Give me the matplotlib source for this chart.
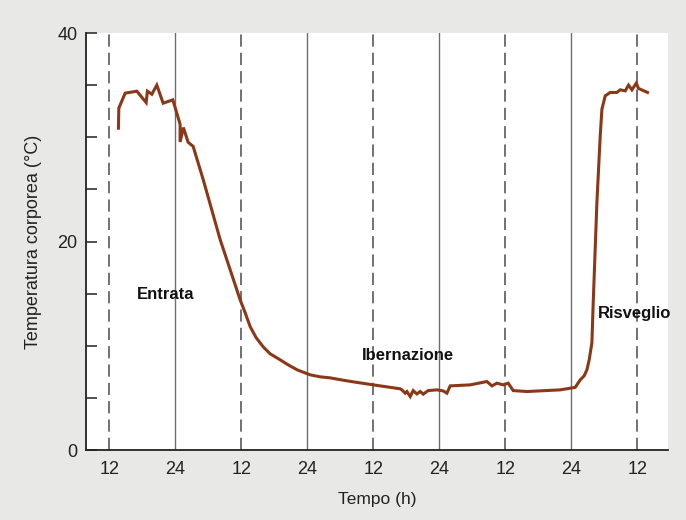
import matplotlib
matplotlib.use("Agg")
import matplotlib.pyplot as plt

plt.rcParams['font.family'] = ['Liberation Sans', 'DejaVu Sans']

# Body temperature record through entry, hibernation and arousal
hours = [13.69, 13.76, 14.91, 17.04, 18.73, 18.96, 19.76, 20.67, 21.82, 23.58,
         24.9, 24.9, 25.5, 26.36, 27.27, 29.09, 32.18, 35.82, 36.73, 37.64,
         38.73, 40.0, 41.27, 43.09, 44.55, 46.18, 48.55, 50.36, 52.18, 55.27,
         60.0, 64.91, 65.22, 65.82, 66.13, 66.73, 67.27, 67.95, 68.55, 69.09,
         70.0, 71.58, 72.73, 73.4, 74.0, 77.64, 79.45, 80.67, 81.58, 82.49,
         83.64, 84.55, 85.45, 88.0, 94.0, 95.82, 96.73, 97.64, 98.36, 98.85,
         99.27, 99.76, 100.0, 100.67, 101.27, 101.58, 102.18, 103.09, 104.31, 104.91,
         105.82, 106.42, 107.04, 107.82, 108.24, 109.87]
temps = [30.87, 32.79, 34.23, 34.42, 33.33, 34.42, 34.13, 35.0, 33.27, 33.59,
         31.25, 29.55, 30.93, 29.52, 29.13, 25.96, 20.19, 14.4, 13.17, 11.83,
         10.77, 9.90, 9.23, 8.65, 8.17, 7.69, 7.21, 7.02, 6.92, 6.63,
         6.25, 5.87, 5.77, 5.45, 5.61, 5.13, 5.70, 5.38, 5.61, 5.36,
         5.70, 5.77, 5.67, 5.45, 6.15, 6.25, 6.44, 6.57, 6.15, 6.41,
         6.25, 6.41, 5.70, 5.61, 5.77, 5.93, 6.01, 6.73, 7.12, 7.69,
         8.65, 10.29, 14.13, 23.75, 30.1, 32.69, 33.97, 34.3, 34.3, 34.55,
         34.45, 35.0, 34.55, 35.19, 34.68, 34.3]

tick_pos = [12, 24, 36, 48, 60, 72, 84, 96, 108]
tick_labels = ['12', '24', '12', '24', '12', '24', '12', '24', '12']
noon_lines = [12, 36, 60, 84, 108]
midnight_lines = [24, 48, 72, 96]

phase_labels = ['Entrata', 'Ibernazione', 'Risveglio']
phase_x = [17.1, 57.9, 100.9]
phase_y = [14.9, 9.1, 13.1]

fig = plt.figure(figsize=(6.86, 5.2), dpi=100, facecolor='#e8e8e6')
ax = fig.add_axes([0.1254, 0.1346, 0.8484, 0.8019])
ax.set_facecolor('white')

for x in noon_lines:
    ax.axvline(x, color='#4a4a4a', lw=1.1, dashes=(8, 4), zorder=1)
for x in midnight_lines:
    ax.axvline(x, color='#6e6e6e', lw=1.0, zorder=1)

ax.plot(hours, temps, color='#8a3818', lw=2.2, solid_joinstyle='miter', zorder=3)

for txt, x, y in zip(phase_labels, phase_x, phase_y):
    ax.text(x, y, txt, fontsize=12, fontweight='bold', color='#111111',
            ha='left', va='center', zorder=4)

ax.set_xlim(7.8, 113.6)
ax.set_ylim(0, 40)
ax.set_xticks(tick_pos)
ax.set_xticklabels(tick_labels)
ax.set_yticks(range(0, 41, 5))
ax.set_yticklabels(['0', '', '', '', '20', '', '', '', '40'])

ax.tick_params(axis='x', length=0, pad=8, labelsize=13, colors='#222222')
ax.tick_params(axis='y', direction='in', length=8, width=1.1, pad=6,
               labelsize=13, colors='#222222')

for s in ['top', 'right']:
    ax.spines[s].set_visible(False)
for s in ['left', 'bottom']:
    ax.spines[s].set_color('#222222')
    ax.spines[s].set_linewidth(1.3)

ax.set_xlabel('Tempo (h)', fontsize=12.5, color='#222222', labelpad=10)
ax.set_ylabel('Temperatura corporea (°C)', fontsize=13, color='#222222')
ax.yaxis.set_label_coords(-0.075, 0.5)

fig.savefig('out.png', dpi=100, facecolor=fig.get_facecolor())
